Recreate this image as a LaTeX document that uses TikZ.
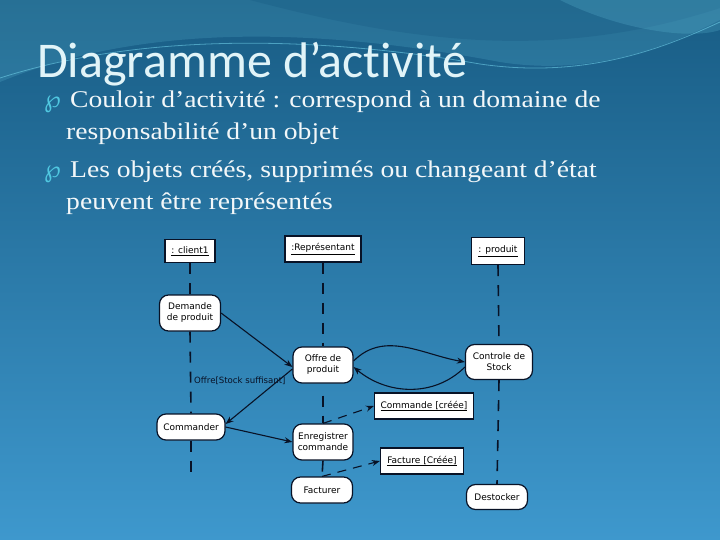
\documentclass[tikz,border=0pt]{standalone}
\usepackage{fontspec}
\setmainfont{Liberation Serif}
\newfontfamily\titlefont[Ligatures=NoCommon]{Carlito}
\newfontfamily\bodyfont[FakeStretch=1.15]{Liberation Serif}
\newfontfamily\diagfont{DejaVu Sans}
\usetikzlibrary{arrows.meta}
\definecolor{bgtop}{RGB}{24,92,132}
\definecolor{bgbot}{RGB}{62,152,205}
\definecolor{wave}{RGB}{110,205,230}
\definecolor{titlec}{RGB}{225,244,248}
\definecolor{bodyc}{RGB}{242,247,249}
\definecolor{bulletc}{RGB}{80,200,225}
\definecolor{ink}{RGB}{8,18,38}

\begin{document}
\begin{tikzpicture}[x=1pt,y=-1pt]
  \tikzset{
  act/.style = {draw = ink, fill = white, line width = 1.2pt,
  rounded corners = 9pt, align = center, inner sep = 1pt,
  font = \diagfont\fontsize{9}{11}\selectfont},
  obj/.style = {draw = ink, fill = white, line width = 1.2pt,
  inner sep = 2pt, font = \diagfont\fontsize{9}{11}\selectfont},
  life/.style = {ink, line width = 1.6pt, dash pattern = on 11pt off 9pt},
  flow/.style = {ink, line width = 1.1pt, -{Stealth[length=8pt,width=6pt]}},
  trace/.style = {flow, dash pattern = on 9pt off 7pt},
  puce/.style = {anchor = base west, text = bulletc, inner sep = 0pt,
  font = \diagfont\fontsize{24}{24}\selectfont},
  body/.style = {anchor = base west, text = bodyc, inner sep = 0pt,
  font = \bodyfont\fontsize{24}{24}\selectfont}}
  \useasboundingbox (0,0) rectangle (720,540);
  \shade[top color=bgtop, bottom color=bgbot] (0,0) rectangle (720,540);
  % vagues du bandeau
  \fill[wave, opacity=0.18] (0,82) .. controls (150,20) and (330,30) .. (500,62)
    .. controls (600,78) and (680,40) .. (720,20) -- (720,0) -- (0,0) -- cycle;
  \fill[bgtop, opacity=0.35] (250,0) .. controls (420,45) and (560,60) .. (720,8)
    -- (720,0) -- cycle;
  \draw[wave, opacity=0.6, line width=0.8pt] (0,78) .. controls (150,30) and (330,38) .. (480,64)
    .. controls (590,80) and (670,45) .. (720,22);
  \fill[wave, opacity=0.2] (560,0) .. controls (620,30) and (690,40) .. (720,30) -- (720,0) -- cycle;
  % titre et texte
  \node[anchor=base west, text=titlec, inner sep=0pt,
    font=\titlefont\fontsize{50}{50}\selectfont] (title) at (37,78) {Diagramme d’activité};
  \node[puce] (b1) at (44,108) {℘};
  \node[body] (l1) at (70,108) {Couloir d’activité : correspond à un domaine de};
  \node[body] (l2) at (66,140) {responsabilité d’un objet};
  \node[puce] (b2) at (44,178) {℘};
  \node[body] (l3) at (70,178) {Les objets créés, supprimés ou changeant d’état};
  \node[body] (l4) at (66,210) {peuvent être représentés};
  % objets
  \node[obj, minimum width=50pt, minimum height=23pt] (client) at (190,251) {\underline{: client1}};
  \node[obj, minimum width=76pt, minimum height=26pt] (repr) at (323,249) {\underline{:Représentant}};
  \node[obj, minimum width=53pt, minimum height=27pt] (produit) at (498,251) {\underline{: produit}};
  % activites
  \node[act, minimum width=61pt, minimum height=36pt] (demande) at (190,313) {Demande\\de produit};
  \node[act, minimum width=60pt, minimum height=36pt] (offre) at (323,365) {Offre de\\produit};
  \node[act, minimum width=67pt, minimum height=35pt] (controle) at (499,362) {Controle de\\Stock};
  \node[act, minimum width=68pt, minimum height=26pt] (commander) at (191,427) {Commander};
  \node[act, minimum width=60pt, minimum height=36pt] (enreg) at (323,442) {Enregistrer\\commande};
  \node[act, minimum width=61pt, minimum height=26pt] (facturer) at (322,490) {Facturer};
  \node[act, minimum width=61pt, minimum height=25pt] (destocker) at (497,497) {Destocker};
  \node[obj, minimum width=99pt, minimum height=26pt] (cmdcree) at (424,406) {\underline{Commande [créée]}};
  \node[obj, minimum width=83pt, minimum height=26pt] (factcree) at (422,461) {\underline{Facture [Créée]}};
  % couloirs
  \draw[life] (client.south) -- (demande.north);
  \draw[life] (demande.south) -- (commander.north);
  \draw[life] (commander.south) -- ++(0,37);
  \draw[life] (repr.south) -- (offre.north);
  \draw[life] ([yshift=-12pt]offre.south) -- (enreg.north);
  \draw[life] (enreg.south) -- (facturer.north);
  \draw[life] (produit.south) -- (controle.north);
  \draw[life] (controle.south) -- (destocker.north);
  \node[anchor=west, inner sep=1pt, text=ink,
    font=\diagfont\fontsize{8.6}{10}\selectfont] (garde) at (193,381) {Offre[Stock suffisant]};
  % transitions
  \draw[flow] (demande.east) -- ([yshift=-2pt]offre.west);
  \draw[flow] ([yshift=-4pt]offre.west) -- ([yshift=3pt]commander.east);
  \draw[flow] (commander.east) -- (enreg.west);
  \draw[flow] ([yshift=4pt]offre.east) to[out=45, in=170] (controle.west);
  \draw[flow] ([yshift=-5pt]controle.west) to[out=-135, in=-40] ([yshift=-2pt]offre.east);
  \draw[trace] (enreg.north) -- (cmdcree.west);
  \draw[trace] (facturer.north) -- (factcree.west);
\end{tikzpicture}
\end{document}
